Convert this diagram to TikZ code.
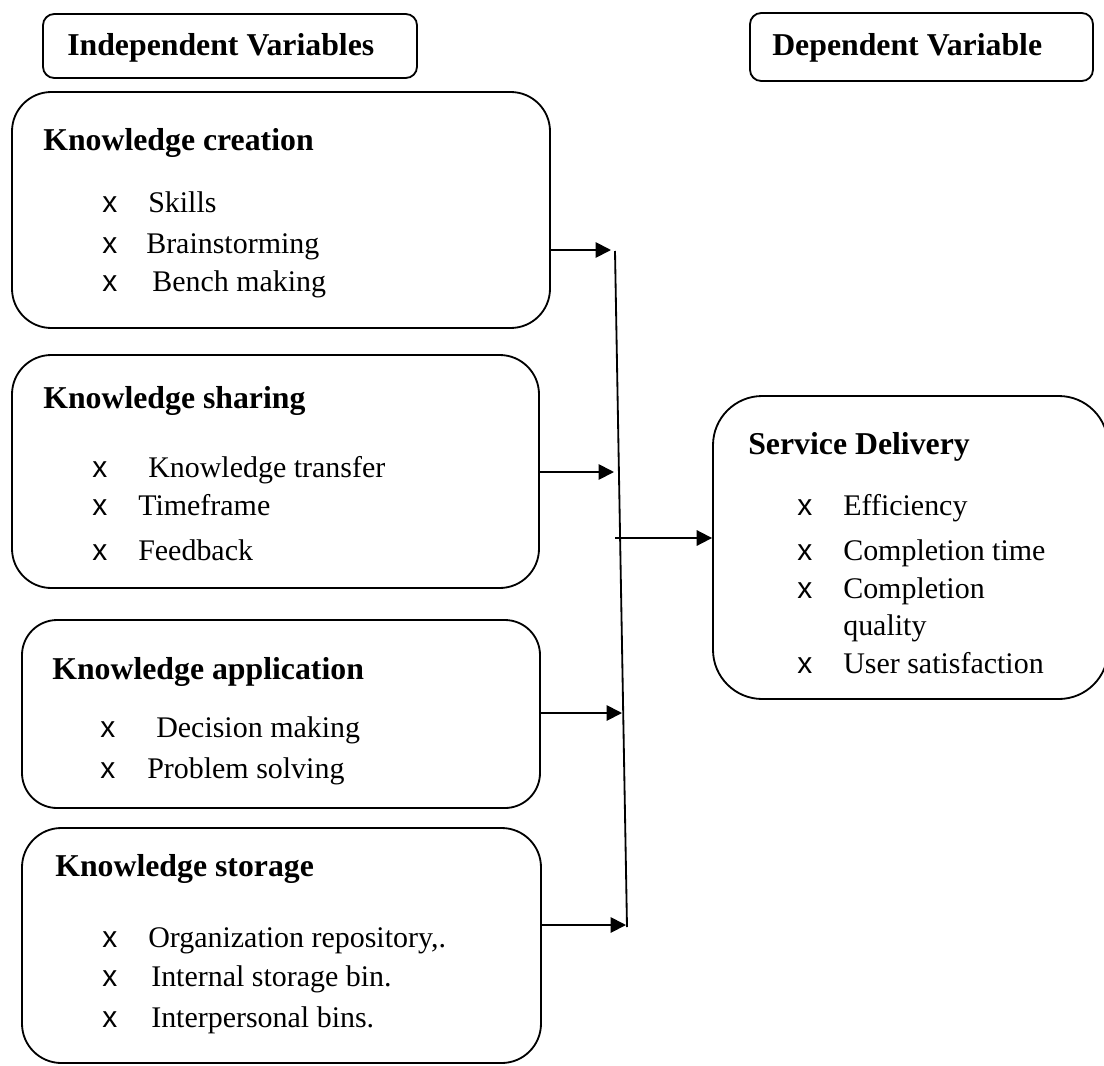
\documentclass[tikz,border=0pt]{standalone}
\usepackage{fontspec}
\setmainfont{Liberation Serif}
\newfontfamily\bulletfont{Liberation Sans}
\usetikzlibrary{arrows.meta,fit}

\begin{document}
\begin{tikzpicture}[x=0.025cm,y=-0.025cm,
    box/.style={draw,line width=1.3pt,inner sep=0pt},
    txt/.style={anchor=base west,inner sep=0pt,font=\fontsize{21.3}{25}\selectfont},
    title/.style={txt,font=\fontsize{22.6}{26}\selectfont\bfseries},
    bul/.style={txt,font=\fontsize{21.3}{25}\selectfont\bulletfont},
    arr/.style={line width=1.3pt,-{Triangle[length=11pt,width=11pt]}}]
          \useasboundingbox (0,0) rectangle (1104,1065);
          % headers
          \node[box,rounded corners=8pt,fit={(43,14) (417,78)}] (indep) {};
          \node[title] (indeptxt) at (67,55) {Independent Variables};
          \node[box,rounded corners=8pt,fit={(750,13) (1093,81)}] (dep) {};
          \node[title] (deptxt) at (772,55) {Dependent Variable};
          % knowledge creation
          \node[box,rounded corners=28pt,fit={(12,92) (550,328)}] (creation) {};
          \node[title] (creationtxt) at (43,150) {Knowledge creation};
          \foreach \y in {212,253,291} \node[bul] (cb\y) at (102,\y) {x};
          \node[txt] (skills) at (148,212) {Skills};
          \node[txt] (brain) at (146,253) {Brainstorming};
          \node[txt] (bench) at (152,291) {Bench making};
          % knowledge sharing
          \node[box,rounded corners=28pt,fit={(12,355) (539,588)}] (sharing) {};
          \node[title] (sharingtxt) at (43,408) {Knowledge sharing};
          \foreach \y in {477,515,560} \node[bul] (sb\y) at (92,\y) {x};
          \node[txt] (transfer) at (148,477) {Knowledge transfer};
          \node[txt] (timeframe) at (138,515) {Timeframe};
          \node[txt] (feedback) at (138,560) {Feedback};
          % knowledge application
          \node[box,rounded corners=25pt,fit={(22,620) (540,808)}] (appl) {};
          \node[title] (appltxt) at (52,679) {Knowledge application};
          \foreach \y in {737,778} \node[bul] (ab\y) at (100,\y) {x};
          \node[txt] (decision) at (156,737) {Decision making};
          \node[txt] (problem) at (147,778) {Problem solving};
          % knowledge storage
          \node[box,rounded corners=28pt,fit={(22,828) (541,1063)}] (storage) {};
          \node[title] (storagetxt) at (55,876) {Knowledge storage};
          \foreach \y in {947,986,1027} \node[bul] (kb\y) at (102,\y) {x};
          \node[txt] (repo) at (148,947) {Organization repository,.};
          \node[txt] (internal) at (151,986) {Internal storage bin.};
          \node[txt] (interp) at (151,1027) {Interpersonal bins.};
          % service delivery
          \node[box,rounded corners=35pt,fit={(713,396) (1108,699)}] (delivery) {};
          \node[title] (deliverytxt) at (748,454) {Service Delivery};
          \foreach \y in {515,560,598,673} \node[bul] (db\y) at (797,\y) {x};
          \node[txt] (effic) at (843,515) {Efficiency};
          \node[txt] (ctime) at (843,560) {Completion time};
          \node[txt] (cqual) at (843,598) {Completion};
          \node[txt] (cqual2) at (843,635) {quality};
          \node[txt] (users) at (843,673) {User satisfaction};
          % connectors
          \coordinate (top) at (615,251);
          \coordinate (bot) at (627,927);
          \coordinate (j1) at (611,250);
          \coordinate (j2) at (614,472);
          \coordinate (j3) at (622,713);
          \coordinate (j4) at (626,925);
          \coordinate (m) at (615,538);
          \draw[line width=1.3pt] (top) -- (bot);
          \draw[arr] (creation.east |- j1) -- (j1);
          \draw[arr] (sharing.east |- j2) -- (j2);
          \draw[arr] (appl.east |- j3) -- (j3);
          \draw[arr] (storage.east |- j4) -- (j4);
          \draw[arr] (m) -- (delivery.west |- m);
        \end{tikzpicture}
\end{document}
